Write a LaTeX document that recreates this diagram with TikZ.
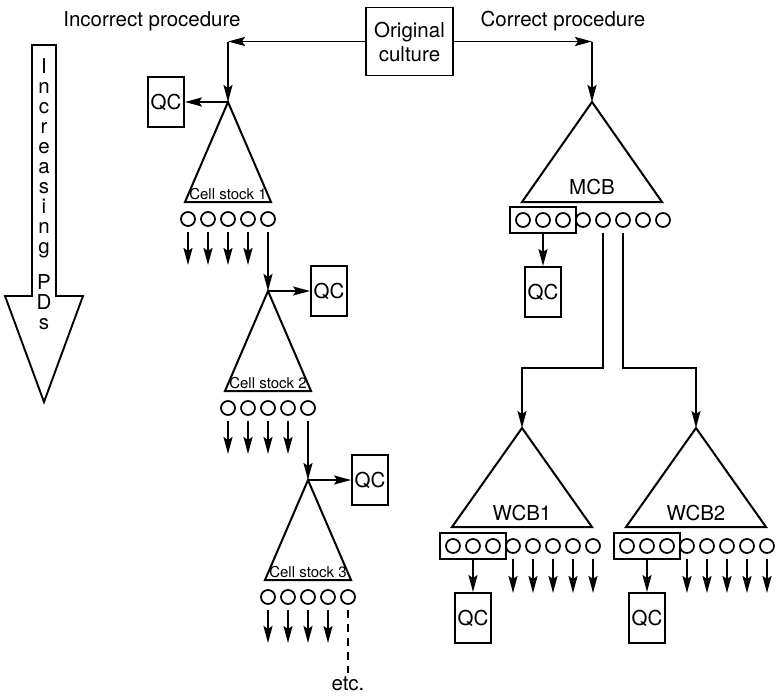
\documentclass[tikz,border=0pt]{standalone}
\usepackage{fontspec}
\setmainfont{TeX Gyre Heros}
\usetikzlibrary{arrows.meta,fit}
\begin{document}
\begin{tikzpicture}[x=1pt,y=-1pt,
  every node/.style={font=\fontsize{20.5}{24}\selectfont},
  ln/.style={line width=1.9pt},
  qcbox/.style={draw,line width=1.9pt,minimum width=36pt,minimum height=50pt,inner sep=0pt},
  cell/.style={circle,draw,line width=1.7pt,minimum size=14pt,inner sep=0pt},
  grp/.style={draw,line width=1.9pt,inner sep=5pt},
  arr/.style={line width=1.9pt,-{Stealth[length=17pt,width=9pt,inset=3pt]}},
  tri/.style={draw,line width=2pt,line join=miter},
  small/.style={font=\fontsize{15}{17}\selectfont},
]
\useasboundingbox (0,0) rectangle (776,696);

% big arrow "Increasing PDs"
\draw[ln,line join=miter] (32,45) -- (56,45) -- (56,296) -- (83,296) -- (44,402) -- (5,296) -- (32,296) -- cycle;
\foreach \ch [count=\k from 0] in {I,n,c,r,e,a,s,i,n,g}
  \node[anchor=base,inner sep=0pt] (pd\k) at (44,73+20*\k) {\ch};
\node[anchor=base,inner sep=0pt] (pdP) at (44,289) {P};
\node[anchor=base,inner sep=0pt] (pdD) at (44,309) {D};
\node[anchor=base,inner sep=0pt] (pds) at (44,329) {s};

% headings
\node[anchor=base] (lblI) at (152,27) {Incorrect procedure};
\node[anchor=base] (lblC) at (563,26) {Correct procedure};

% original culture
\node[draw,line width=1.9pt,minimum width=87pt,minimum height=68pt,align=center,inner sep=0pt] (orig) at (409.5,41.5) {Original\\culture};
\coordinate (kL) at (228,41.5);
\coordinate (kR) at (592,41.5);

% ---------------- incorrect procedure ----------------
\coordinate (A1) at (228,102);
\coordinate (A2) at (268,291);
\coordinate (A3) at (308,480);
\draw[arr] (orig) -- (kL);
\draw[arr] (kL) -- (A1);

\foreach \n/\x/\y in {1/228/102, 2/268/291, 3/308/480} {
  \draw[tri] (\x,\y) -- (\x-43,\y+100) -- (\x+43,\y+100) -- cycle;
  \node[small,anchor=base,inner sep=0pt] (cs\n) at (\x,\y+97) {Cell stock \n};
  \foreach \k in {1,...,5}
    \node[cell] (s\n-\k) at (\x+20*\k-60,\y+117) {};
  \foreach \k in {1,...,4} {
    \coordinate (e\n-\k) at (\x+20*\k-60,\y+163);
    \draw[arr,shorten <=5pt] (s\n-\k.south) -- (e\n-\k);
  }
}
\draw[arr,shorten <=5pt] (s1-5.south) -- (A2);
\draw[arr,shorten <=5pt] (s2-5.south) -- (A3);

\node[qcbox] (q1) at (166,102) {QC};
\node[qcbox] (q2) at (329,291) {QC};
\node[qcbox] (q3) at (370,480) {QC};
\draw[arr] (A1) -- (q1);
\draw[arr] (A2) -- (q2);
\draw[arr] (A3) -- (q3);

\node[anchor=base] (etc) at (348,690) {etc.};
\draw[line width=1.1pt,dash pattern=on 8pt off 6pt,shorten <=5pt] (s3-5.south) -- (etc.north);

% ---------------- correct procedure ----------------
\coordinate (M) at (592,102);
\draw[arr] (orig) -- (kR);
\draw[arr] (kR) -- (M);
\draw[tri] (592,102) -- (522,202) -- (662,202) -- cycle;
\node[anchor=base,inner sep=0pt] (mcb) at (592,194) {MCB};
\foreach \k in {1,...,8}
  \node[cell] (m\k) at (503+20*\k,220) {};
\node[grp,fit=(m1)(m3)] (mg) {};
\node[qcbox] (qm) at (543,292) {QC};
\draw[arr] (mg) -- (qm);

\coordinate (W1) at (522,428);
\coordinate (W2) at (696,428);
\coordinate (j1) at (522,368);
\coordinate (j2) at (696,368);
\draw[arr,shorten <=5pt] (m5.south) |- (j1) -- (W1);
\draw[arr,shorten <=5pt] (m6.south) |- (j2) -- (W2);

\foreach \n/\x in {1/522, 2/696} {
  \draw[tri] (\x,428) -- (\x-70,527) -- (\x+70,527) -- cycle;
  \node[anchor=base,inner sep=0pt] (wcb\n) at (\x,520) {WCB\n};
  \foreach \k in {1,...,8}
    \node[cell] (w\n-\k) at (\x-89+20*\k,546) {};
  \node[grp,fit=(w\n-1)(w\n-3)] (wg\n) {};
  \node[qcbox] (wq\n) at (\x-49,618) {QC};
  \draw[arr] (wg\n) -- (wq\n);
  \foreach \k in {4,...,8} {
    \coordinate (we\n-\k) at (\x-89+20*\k,593);
    \draw[arr,shorten <=5pt] (w\n-\k.south) -- (we\n-\k);
  }
}
\end{tikzpicture}
\end{document}
